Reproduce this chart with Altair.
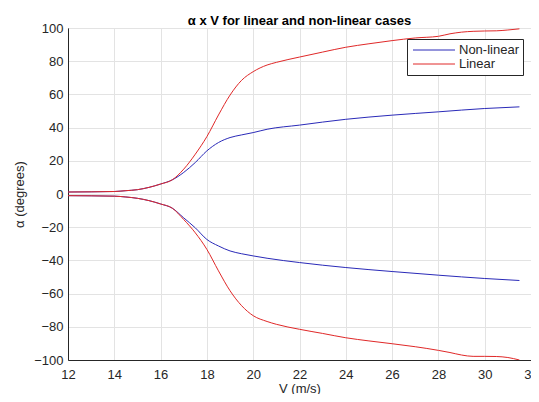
import altair as alt
import pandas as pd

# Data
v_nl = [12, 13, 14, 14.5, 15, 15.5, 16, 16.5, 17, 17.5, 18, 18.5, 19, 19.5, 20, 20.6, 22, 24, 26, 28, 30, 31.5]
nl_upper = [1.2, 1.3, 1.5, 2.0, 2.6, 4.0, 6.0, 8.5, 13.0, 19.0, 26.0, 31.0, 34.0, 35.6, 37.0, 39.0, 41.5, 45.0, 47.5, 49.5, 51.5, 52.5]
nl_lower = [-1.0, -1.1, -1.3, -1.8, -2.6, -4.0, -6.0, -8.5, -14.4, -20.4, -27.4, -31.3, -34.3, -36.0, -37.3, -38.7, -41.3, -44.3, -46.7, -48.9, -50.9, -52.1]

v_lin = [12, 13, 14, 14.5, 15, 15.5, 16, 16.5, 17, 17.5, 18, 18.5, 19, 19.5, 20, 20.6, 21, 22, 23, 24, 25, 26, 27, 28, 28.5, 29, 29.5, 30, 30.5, 31, 31.5]
lin_upper = [1.2, 1.3, 1.5, 2.0, 2.6, 4.0, 6.0, 8.5, 15.0, 24.0, 34.6, 47.6, 59.6, 68.5, 73.7, 77.7, 79.3, 82.5, 85.5, 88.4, 90.5, 92.4, 94.0, 95.0, 96.5, 97.5, 98.0, 98.2, 98.3, 98.8, 99.5]
lin_lower = [-1.0, -1.1, -1.3, -1.8, -2.6, -4.0, -6.0, -8.5, -15.4, -23.4, -33.4, -46.3, -58.3, -67.3, -73.3, -76.8, -78.5, -81.5, -84.0, -86.6, -88.5, -90.2, -92.0, -94.2, -95.5, -97.0, -97.8, -97.8, -97.9, -98.5, -100.0]

series = ["Non-linear", "Linear"]
colors = ["#2a2ab8", "#e02828"]
x_ticks = list(range(12, 33, 2))
y_ticks = list(range(-100, 101, 20))

rows = []
for v, a in zip(v_nl, nl_upper):
    rows.append({"V": v, "alpha": a, "case": "Non-linear", "branch": "nl_up"})
for v, a in zip(v_nl, nl_lower):
    rows.append({"V": v, "alpha": a, "case": "Non-linear", "branch": "nl_low"})
for v, a in zip(v_lin, lin_upper):
    rows.append({"V": v, "alpha": a, "case": "Linear", "branch": "lin_up"})
for v, a in zip(v_lin, lin_lower):
    rows.append({"V": v, "alpha": a, "case": "Linear", "branch": "lin_low"})
df = pd.DataFrame(rows)

font = "Liberation Sans"

chart = alt.Chart(df).mark_line(strokeWidth=1, interpolate="monotone", clip=True).encode(
    x=alt.X("V:Q", scale=alt.Scale(domain=[12, 32], nice=False),
            axis=alt.Axis(title="V (m/s)", values=x_ticks, ticks=False, labelFlush=False,
                          labelPadding=8, titlePadding=1)),
    y=alt.Y("alpha:Q", scale=alt.Scale(domain=[-100, 100], nice=False),
            axis=alt.Axis(title="α (degrees)", values=y_ticks, ticks=False, labelFlush=False,
                          labelPadding=5, titlePadding=7)),
    color=alt.Color("case:N", scale=alt.Scale(domain=series, range=colors),
                    sort=series,
                    legend=alt.Legend(title=None, orient="none", legendX=339, legendY=11,
                                      symbolType="M-3.23,0H3.23", symbolSize=169,
                                      symbolStrokeWidth=1, symbolOffset=16,
                                      labelFontSize=13, labelFont=font, labelColor="#262626",
                                      fillColor="white", strokeColor="#262626", padding=4,
                                      rowPadding=0, labelOffset=18)),
    detail="branch:N",
).properties(
    width=463, height=332,
    title=alt.TitleParams("α x V for linear and non-linear cases", fontSize=13, font=font,
                          fontWeight="bold", color="#000000", offset=-6, anchor="middle"),
    autosize=alt.AutoSizeParams(type="none"),
    padding={"left": 60, "top": 20, "right": 0, "bottom": 34},
).configure_view(
    stroke="#262626", strokeWidth=1
).configure_axis(
    labelFont=font, titleFont=font, labelFontSize=13, titleFontSize=13,
    labelColor="#262626", titleColor="#262626", titleFontWeight="normal",
    domainColor="#262626", gridColor="#e3e3e3", gridOpacity=1,
)

chart.save("out.html", embed_options={"renderer": "svg", "actions": False})
